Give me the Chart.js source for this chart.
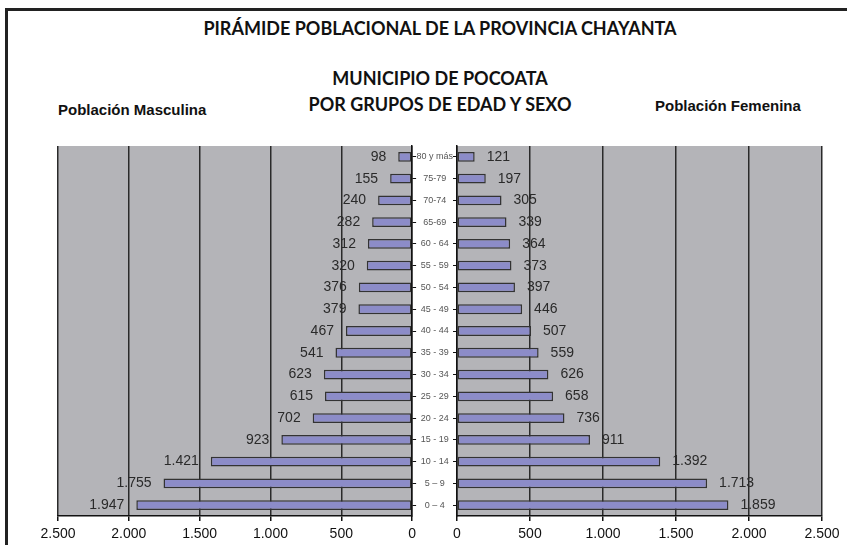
<!DOCTYPE html>
<html>
<head>
<meta charset="utf-8">
<script src="https://cdn.jsdelivr.net/npm/chart.js@4"></script>
<style>
  body { margin: 0; background: #fff; }
  #page { position: relative; width: 847px; height: 545px; overflow: hidden; }
  #frame { position: absolute; left: 5px; top: 8px; width: 900px; height: 600px;
           border-left: 3px solid #222; border-top: 3px solid #222; }
  .txt { position: absolute; font-family: Lato, "Liberation Sans", sans-serif; font-weight: bold; color: #111;
         white-space: nowrap; transform: translateX(-50%); }
  .side { position: absolute; font-family: "Liberation Sans", Arial, sans-serif; font-weight: bold;
          font-size: 15px; color: #111; white-space: nowrap; }
  canvas { position: absolute; top: 0; }
</style>
</head>
<body>
<div id="page">
  <div class="txt" style="left:440px; top:17px; font-size:18px;">PIRÁMIDE POBLACIONAL DE LA PROVINCIA CHAYANTA</div>
  <div class="txt" style="left:440px; top:67px; font-size:18px;">MUNICIPIO DE POCOATA</div>
  <div class="txt" style="left:440px; top:93px; font-size:18px;">POR GRUPOS DE EDAD Y SEXO</div>
  <div class="side" style="left:58px; top:101px;">Población Masculina</div>
  <div class="side" style="left:655px; top:97px;">Población Femenina</div>
  <div style="position:absolute; left:0; width:421px; height:545px;"><canvas id="male"></canvas></div>
  <div style="position:absolute; left:413px; width:434px; height:545px;"><canvas id="female"></canvas></div>
  <div id="frame"></div>
</div>
<script>
// grupos de edad, de arriba hacia abajo
const ageGroups = ["80 y más", "75-79", "70-74", "65-69", "60 - 64", "55 - 59", "50 - 54", "45 - 49",
  "40 - 44", "35 - 39", "30 - 34", "25 - 29", "20 - 24", "15 - 19", "10 - 14", "5 – 9", "0 – 4"];
const male = [98, 155, 240, 282, 312, 320, 376, 379, 467, 541, 623, 615, 702, 923, 1421, 1755, 1947];
const female = [121, 197, 305, 339, 364, 373, 397, 446, 507, 559, 626, 658, 736, 911, 1392, 1713, 1859];
const axisMax = 2500;
const axisStep = 500;

function fmt(v) {
  return String(v).replace(/\B(?=(\d{3})+(?!\d))/g, ".");
}

const grayBg = {
  id: "grayBg",
  beforeDraw(chart) {
    const a = chart.chartArea, ctx = chart.ctx;
    ctx.save();
    ctx.fillStyle = "#b4b4b8";
    ctx.fillRect(a.left, a.top, a.right - a.left, a.bottom - a.top);
    ctx.restore();
  }
};

const valueLabels = {
  id: "valueLabels",
  afterDatasetsDraw(chart) {
    const ctx = chart.ctx;
    const left = chart.options.scales.x.reverse;
    ctx.save();
    ctx.font = "14px 'Liberation Sans', Arial, sans-serif";
    ctx.fillStyle = "#2a2a2a";
    ctx.textBaseline = "middle";
    ctx.textAlign = left ? "right" : "left";
    chart.getDatasetMeta(0).data.forEach((bar, i) => {
      const v = chart.data.datasets[0].data[i];
      ctx.fillText(fmt(v), left ? bar.x - 12 : bar.x + 12, bar.y);
    });
    ctx.restore();
  }
};

function makeChart(id, values, isLeft) {
  return new Chart(document.getElementById(id), {
    type: "bar",
    data: {
      labels: ageGroups,
      datasets: [{
        data: values,
        backgroundColor: "#8c8cc8",
        borderColor: "#333",
        borderWidth: 1.5,
        borderSkipped: false,
        barPercentage: 0.45,
        categoryPercentage: 1
      }]
    },
    options: {
      indexAxis: "y",
      responsive: true,
      maintainAspectRatio: false,
      animation: false,
      layout: { padding: isLeft ? { left: 58, top: 146, right: 0, bottom: 0 } : { left: 0, top: 146, right: 25, bottom: 0 } },
      plugins: { legend: { display: false }, tooltip: { enabled: false } },
      scales: {
        x: {
          reverse: isLeft,
          min: 0,
          max: axisMax,
          ticks: {
            stepSize: axisStep,
            color: "#111",
            padding: 5,
            font: { family: "'Liberation Sans', Arial, sans-serif", size: 14 },
            callback: v => fmt(v)
          },
          grid: { color: "#2a2a2a", lineWidth: 1.5, tickLength: 5, tickColor: "#111" },
          border: { color: "#111", width: 1.5 },
          afterFit: s => { s.height = 29; }
        },
        y: {
          position: isLeft ? "right" : "left",
          ticks: {
            display: !isLeft,
            color: "#555",
            crossAlign: "center",
            padding: 0,
            font: { family: "'Liberation Sans', Arial, sans-serif", size: 9 }
          },
          grid: { drawOnChartArea: false, tickLength: 4, tickColor: "#111", offset: false },
          border: { color: "#111", width: 1.5 },
          afterFit: s => { s.width = isLeft ? 5 : 44; }
        }
      }
    },
    plugins: [grayBg, valueLabels]
  });
}

makeChart("male", male, true);
makeChart("female", female, false);
</script>
</body>
</html>
